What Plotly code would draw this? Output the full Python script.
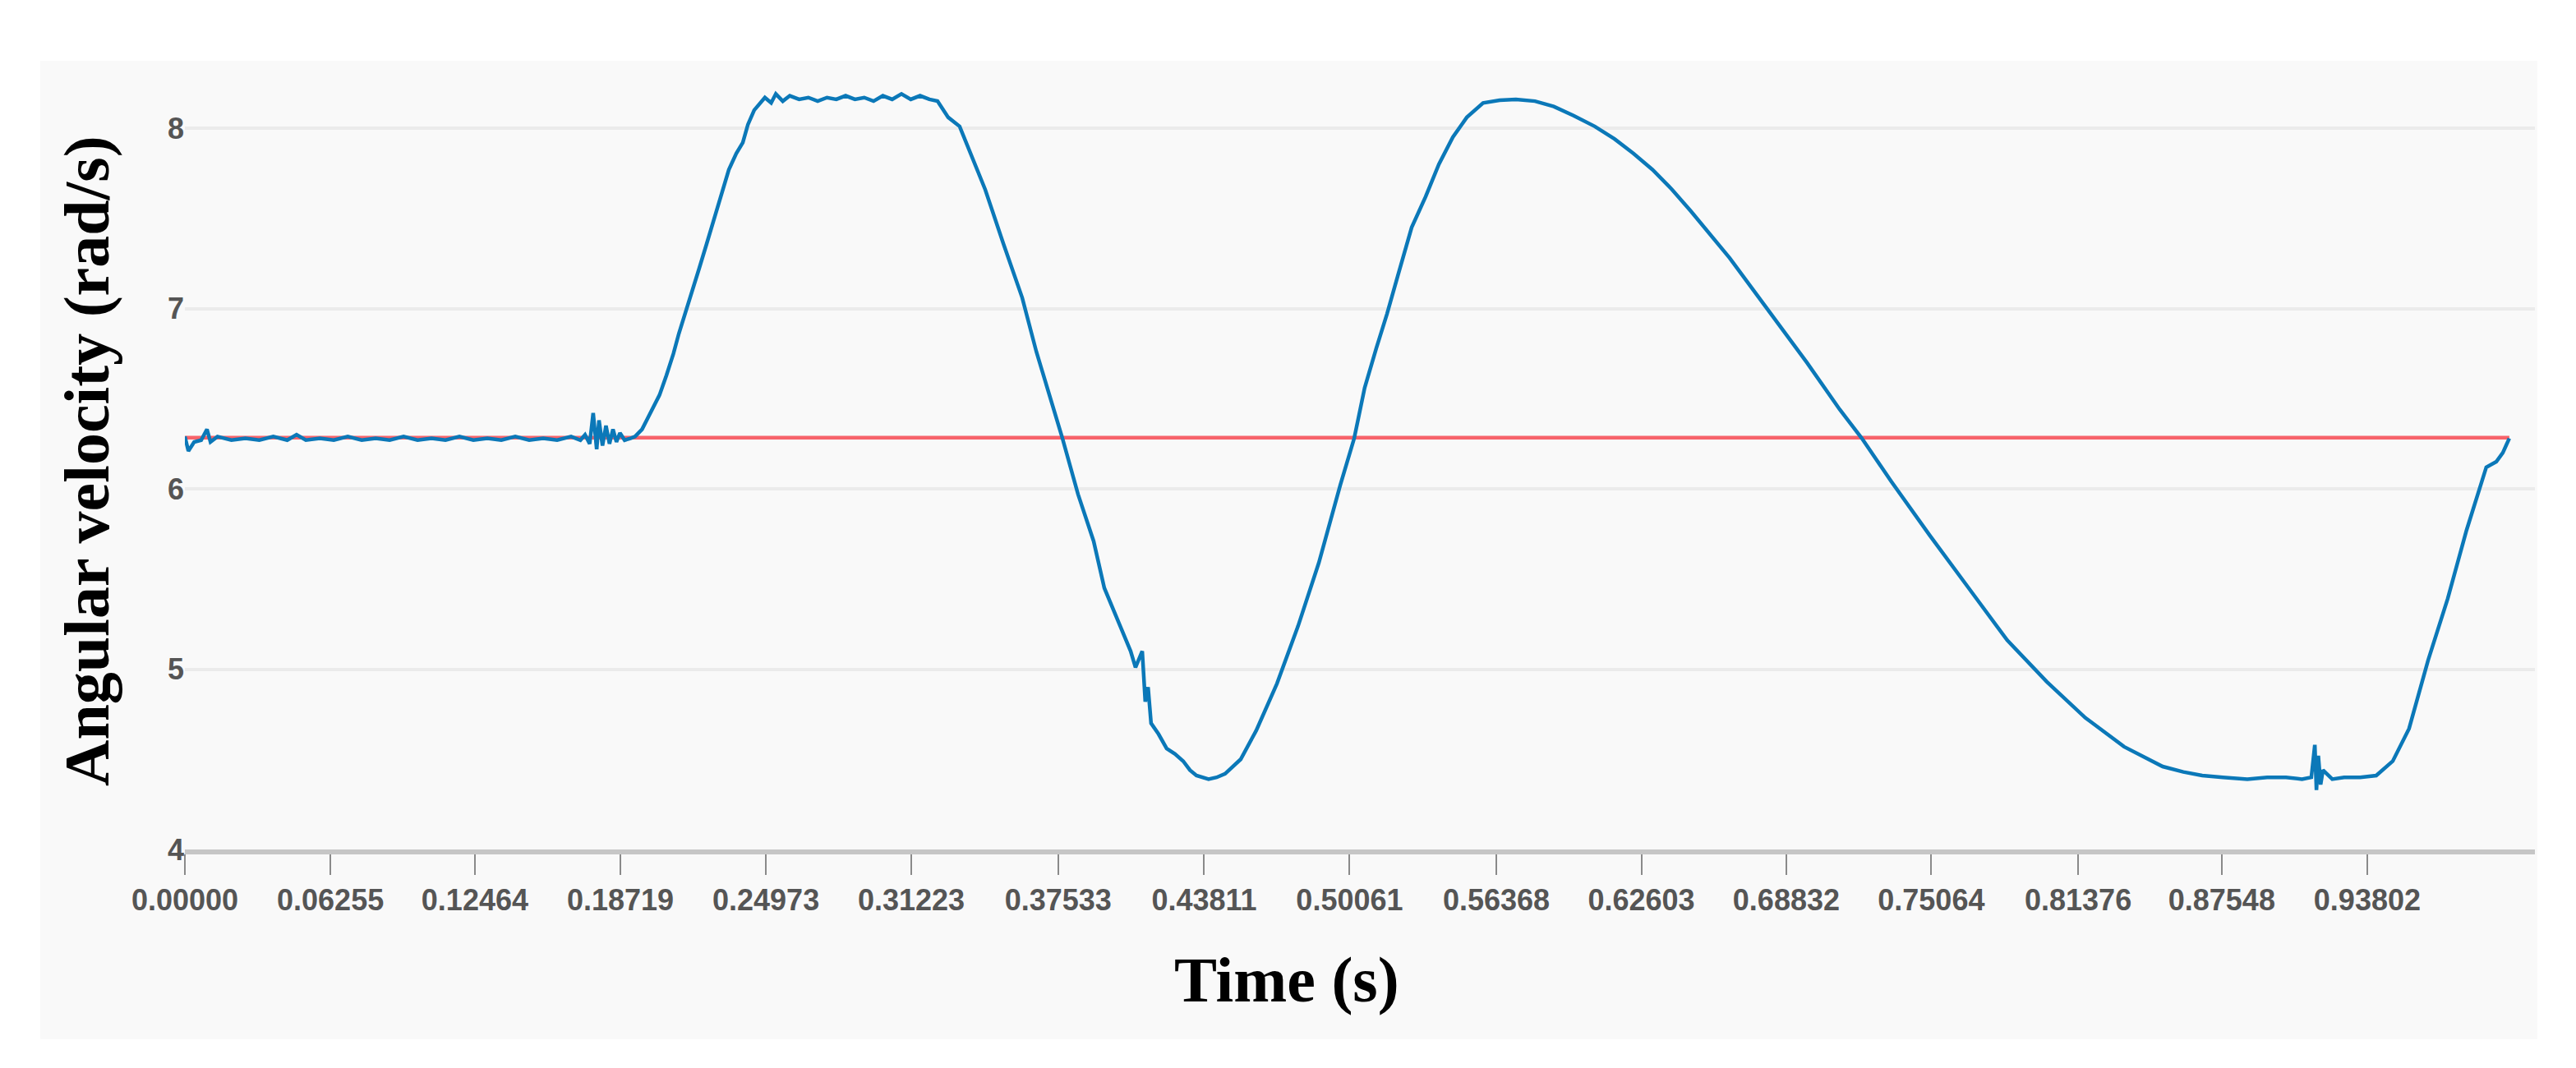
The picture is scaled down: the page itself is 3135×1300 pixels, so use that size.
import plotly.graph_objects as go

# time (s) and angular velocity (rad/s)
time_s = [
    0.000, 0.0015, 0.004, 0.007, 0.0095, 0.011, 0.014, 0.020, 0.026, 0.032,
    0.038, 0.044, 0.048, 0.052, 0.058, 0.064, 0.070, 0.076, 0.082, 0.088,
    0.094, 0.100, 0.106, 0.112, 0.118, 0.124, 0.130, 0.136, 0.142, 0.148,
    0.154, 0.160, 0.166, 0.170, 0.172, 0.174, 0.1755, 0.177, 0.178, 0.1795,
    0.181, 0.1825, 0.184, 0.1855, 0.187, 0.189, 0.1915,
    0.1935, 0.1965, 0.2006, 0.2040, 0.2070, 0.2100, 0.2123, 0.2150, 0.2179,
    0.2210, 0.2243, 0.2289, 0.2338, 0.2370, 0.2398, 0.2420, 0.2447, 0.2493,
    0.252, 0.254, 0.257, 0.260, 0.264, 0.268, 0.272, 0.276, 0.280, 0.284,
    0.288, 0.292, 0.296, 0.300, 0.304, 0.308, 0.312, 0.316, 0.320, 0.3235,
    0.3281, 0.3330, 0.3376, 0.3440, 0.3518, 0.3599, 0.3660, 0.3772, 0.3839,
    0.3906, 0.3952, 0.4008, 0.4065, 0.4086, 0.4115, 0.4128, 0.4140, 0.4153,
    0.4185, 0.4220, 0.4255, 0.4291, 0.4320, 0.4348, 0.4375, 0.4400, 0.4435,
    0.4471, 0.4538, 0.4605, 0.4694, 0.4785, 0.4874, 0.4966, 0.5026, 0.5071,
    0.5121, 0.5167, 0.5213, 0.5273, 0.5333, 0.5390, 0.5450, 0.5510, 0.5580,
    0.5651, 0.5721, 0.5803, 0.5884, 0.5969, 0.6060, 0.6145, 0.6226, 0.6308,
    0.6392, 0.6473, 0.6640, 0.6806, 0.6972, 0.7113, 0.7208, 0.7335, 0.7501,
    0.7667, 0.7833, 0.8003, 0.8169, 0.8335, 0.8501, 0.8590, 0.8671, 0.8760,
    0.8865, 0.8950, 0.9031, 0.9100, 0.9140, 0.9155, 0.9162, 0.9170, 0.9180,
    0.9190, 0.9230, 0.9281, 0.9350, 0.9419, 0.9490, 0.9560, 0.9642, 0.9726,
    0.9807, 0.9892, 0.9935, 0.9963, 0.9991,
]
omega = [
    6.29, 6.21, 6.26, 6.27, 6.33, 6.26, 6.29, 6.27, 6.28, 6.27,
    6.29, 6.27, 6.30, 6.27, 6.28, 6.27, 6.29, 6.27, 6.28, 6.27,
    6.29, 6.27, 6.28, 6.27, 6.29, 6.27, 6.28, 6.27, 6.29, 6.27,
    6.28, 6.27, 6.29, 6.27, 6.30, 6.25, 6.42, 6.22, 6.38, 6.24,
    6.35, 6.25, 6.33, 6.26, 6.31, 6.27, 6.28,
    6.29, 6.33, 6.43, 6.52, 6.63, 6.75, 6.86, 6.97, 7.08,
    7.22, 7.36, 7.56, 7.77, 7.86, 7.92, 8.02, 8.10, 8.17,
    8.14, 8.19, 8.15, 8.18, 8.16, 8.17, 8.15, 8.17, 8.16, 8.18,
    8.16, 8.17, 8.15, 8.18, 8.16, 8.19, 8.16, 8.18, 8.16, 8.15,
    8.06, 8.01, 7.86, 7.66, 7.36, 7.06, 6.76, 6.28, 5.97,
    5.71, 5.45, 5.28, 5.10, 5.01, 5.10, 4.82, 4.90, 4.70,
    4.64, 4.56, 4.53, 4.49, 4.44, 4.41, 4.40, 4.39, 4.40,
    4.42, 4.50, 4.66, 4.92, 5.24, 5.59, 6.02, 6.28, 6.56,
    6.78, 6.97, 7.18, 7.45, 7.62, 7.80, 7.95, 8.06, 8.14,
    8.155, 8.16, 8.15, 8.12, 8.07, 8.01, 7.94, 7.86, 7.77,
    7.66, 7.54, 7.28, 6.99, 6.70, 6.44, 6.28, 6.04, 5.74,
    5.45, 5.16, 4.93, 4.73, 4.57, 4.46, 4.43, 4.41, 4.40,
    4.39, 4.40, 4.40, 4.39, 4.40, 4.58, 4.33, 4.52, 4.36,
    4.44, 4.39, 4.40, 4.40, 4.41, 4.49, 4.67, 5.05, 5.39,
    5.77, 6.12, 6.15, 6.20, 6.28,
]

# reference speed 2*pi rad/s
ref_time = [0.0, 0.9991]
ref_omega = [6.2832, 6.2832]

tick_labels = ["0.00000", "0.06255", "0.12464", "0.18719", "0.24973",
               "0.31223", "0.37533", "0.43811", "0.50061", "0.56368",
               "0.62603", "0.68832", "0.75064", "0.81376", "0.87548",
               "0.93802"]
tick_vals = [float(s) for s in tick_labels]

blue = "#0b78b8"
red = "#f7636a"
panel = "#f9f9f9"

fig = go.Figure()
fig.add_trace(go.Scatter(x=ref_time, y=ref_omega, mode="lines",
                         line=dict(color=red, width=4.5), showlegend=False))
fig.add_trace(go.Scatter(x=time_s, y=omega, mode="lines",
                         line=dict(color=blue, width=4.5), showlegend=False))

fig.update_layout(
    width=3135, height=1300,
    margin=dict(l=217, r=58, t=80, b=274),
    paper_bgcolor="white",
    plot_bgcolor="rgba(0,0,0,0)",
    font=dict(family="Liberation Sans", color="#555555"),
    shapes=[dict(type="rect", xref="paper", yref="paper",
                 x0=-0.0615, x1=1.001, y0=-0.244, y1=1.0148,
                 fillcolor=panel, line=dict(width=0), layer="below")],
    annotations=[
        dict(text="<b>Angular velocity (rad/s)</b>", textangle=-90,
             xref="paper", yref="paper", x=-0.042, y=0.5,
             xanchor="center", yanchor="middle", showarrow=False,
             font=dict(family="Liberation Serif", size=78, color="black")),
        dict(text="<b>Time (s)</b>",
             xref="paper", yref="paper", x=0.469, y=-0.168,
             xanchor="center", yanchor="middle", showarrow=False,
             font=dict(family="Liberation Serif", size=78, color="black")),
    ],
)
fig.update_xaxes(range=[0, 1.0101], tickvals=tick_vals, ticktext=tick_labels,
                 showgrid=False, zeroline=False,
                 showline=True, linecolor="#c6c6c6", linewidth=6,
                 ticks="outside", ticklen=25, tickwidth=2, tickcolor="#8a8a8a",
                 tickfont=dict(size=36, color="#555555", weight="bold"))
fig.update_yaxes(range=[4, 8.31], tickvals=[4, 5, 6, 7, 8],
                 showgrid=True, gridcolor="#ebebeb", gridwidth=4,
                 zeroline=False, showline=False, ticks="",
                 tickfont=dict(size=36, color="#555555", weight="bold"))

fig.write_html("out.html")
